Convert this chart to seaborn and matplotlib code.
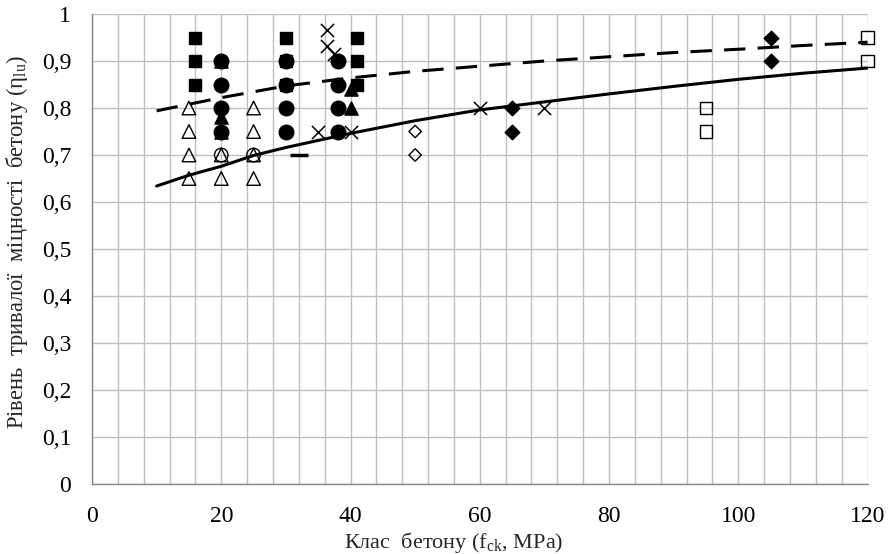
import numpy as np
import pandas as pd
import matplotlib
matplotlib.use("Agg")
import matplotlib.pyplot as plt
from matplotlib.ticker import MultipleLocator
import seaborn as sns

# ---------------- data ----------------
sq_fill_x = [16, 16, 16, 30, 30, 30, 41, 41, 41]
sq_fill_y = [0.95, 0.90, 0.85, 0.95, 0.90, 0.85, 0.95, 0.90, 0.85]

tri_fill_x = [20, 20, 20, 40, 40]
tri_fill_y = [0.90, 0.78, 0.75, 0.84, 0.80]

circ_fill_x = [20, 20, 20, 20, 30, 30, 30, 30, 38, 38, 38, 38]
circ_fill_y = [0.90, 0.85, 0.80, 0.75, 0.90, 0.85, 0.80, 0.75, 0.90, 0.85, 0.80, 0.75]

tri_open_x = [15, 15, 15, 15, 20, 20, 25, 25, 25, 25]
tri_open_y = [0.80, 0.75, 0.70, 0.65, 0.70, 0.65, 0.80, 0.75, 0.70, 0.65]

circ_open_x = [20, 25]
circ_open_y = [0.70, 0.70]

cross_x = [36.3, 36.3, 37.5, 35, 40, 60, 70]
cross_y = [0.965, 0.932, 0.915, 0.75, 0.75, 0.80, 0.80]

dash_x = [32]
dash_y = [0.70]

diam_fill_x = [65, 65, 105, 105]
diam_fill_y = [0.80, 0.75, 0.95, 0.90]

diam_open_x = [50, 50]
diam_open_y = [0.75, 0.70]

sq_open_x = [95, 95, 120, 120]
sq_open_y = [0.80, 0.75, 0.95, 0.90]

# trend curves
solid_x = [10, 15, 20, 25, 30, 40, 50, 60, 70, 80, 90, 100, 110, 120]
solid_y = [0.634, 0.657, 0.676, 0.699, 0.716, 0.746, 0.773, 0.796, 0.813,
           0.830, 0.846, 0.861, 0.874, 0.885]

dashed_x = [10, 20, 30, 40, 50, 60, 70, 80, 90, 100, 110, 120]
dashed_y = [0.794, 0.822, 0.847, 0.864, 0.878, 0.889, 0.900, 0.909, 0.918,
            0.925, 0.933, 0.940]

x_ticks = [0, 20, 40, 60, 80, 100, 120]
y_ticks = [0, 0.1, 0.2, 0.3, 0.4, 0.5, 0.6, 0.7, 0.8, 0.9, 1.0]
y_tick_labels = ["0", "0,1", "0,2", "0,3", "0,4", "0,5", "0,6", "0,7", "0,8", "0,9", "1"]

x_label = "Клас  бетону (f$_{\\mathregular{ck}}$, MPa)"
y_label = "Рівень  тривалої  міцності  бетону (η$_{\\mathregular{lu}}$)"

# ---------------- style ----------------
sns.set_style("white")
plt.rcParams["font.family"] = ["Liberation Serif", "DejaVu Serif"]
plt.rcParams["mathtext.fontset"] = "custom"
plt.rcParams["mathtext.rm"] = "Liberation Serif"

grid_col = "#bfbfbf"
axis_col = "#868686"

fig = plt.figure(figsize=(8.95, 5.54), dpi=100)
ax = fig.add_axes([0.1028, 0.1264, 0.8665, 0.8483])

# curves
sns.lineplot(x=solid_x, y=solid_y, ax=ax, color="black", lw=2.2, sort=False,
             estimator=None, zorder=3)
sns.lineplot(x=dashed_x, y=dashed_y, ax=ax, color="black", lw=2.2, sort=False,
             estimator=None, zorder=3, dashes=False, linestyle=(0, (7, 4)))

def pts(xs, ys, marker, size, filled, lw=1.0):
    sns.scatterplot(x=xs, y=ys, ax=ax, marker=marker, s=size,
                    color="black" if filled else "none",
                    edgecolor="black", linewidth=lw, zorder=4, clip_on=False)

pts(tri_open_x, tri_open_y, "^", 95, False, 1.0)
pts(circ_open_x, circ_open_y, "o", 95, False, 1.0)
pts(sq_fill_x, sq_fill_y, "s", 85, True)
pts(tri_fill_x, tri_fill_y, "^", 90, True)
pts(circ_fill_x, circ_fill_y, "o", 110, True)
pts(diam_fill_x, diam_fill_y, "D", 55, True)
pts(diam_open_x, diam_open_y, "D", 40, False, 1.0)
pts(sq_open_x, sq_open_y, "s", 85, False, 1.0)
sns.scatterplot(x=cross_x, y=cross_y, ax=ax, marker="x", s=90, color="black",
                linewidth=1.1, zorder=4, clip_on=False)
sns.scatterplot(x=dash_x, y=dash_y, ax=ax, marker="_", s=160, color="black",
                linewidth=2.5, zorder=4)

# axes
ax.set_xlim(0, 120)
ax.set_ylim(0, 1)
ax.set_xticks(x_ticks)
ax.xaxis.set_minor_locator(MultipleLocator(4))
ax.set_yticks(y_ticks)
ax.set_yticklabels(y_tick_labels)

ax.grid(True, which="both", axis="x", color=grid_col, lw=1.0, zorder=0)
ax.grid(True, which="major", axis="y", color=grid_col, lw=1.0, zorder=0)
ax.set_axisbelow(True)

for side in ["top", "right"]:
    ax.spines[side].set_visible(False)
for side in ["left", "bottom"]:
    ax.spines[side].set_color(axis_col)
    ax.spines[side].set_linewidth(1.0)

ax.tick_params(axis="x", which="major", labelsize=17, colors=axis_col,
               labelcolor="black", direction="out", length=5, width=1, pad=11)
ax.tick_params(axis="y", which="major", labelsize=17, colors=axis_col,
               labelcolor="black", direction="out", length=5, width=1, pad=10)
ax.tick_params(axis="x", which="minor", colors=axis_col, direction="out",
               length=5, width=1)

ax.set_xlabel(x_label, fontsize=16)
ax.set_ylabel(y_label, fontsize=16.3)
ax.xaxis.set_label_coords(0.466, -0.098)
ax.yaxis.set_label_coords(-0.080, 0.515)

fig.savefig("out.png", dpi=100)
plt.close(fig)
